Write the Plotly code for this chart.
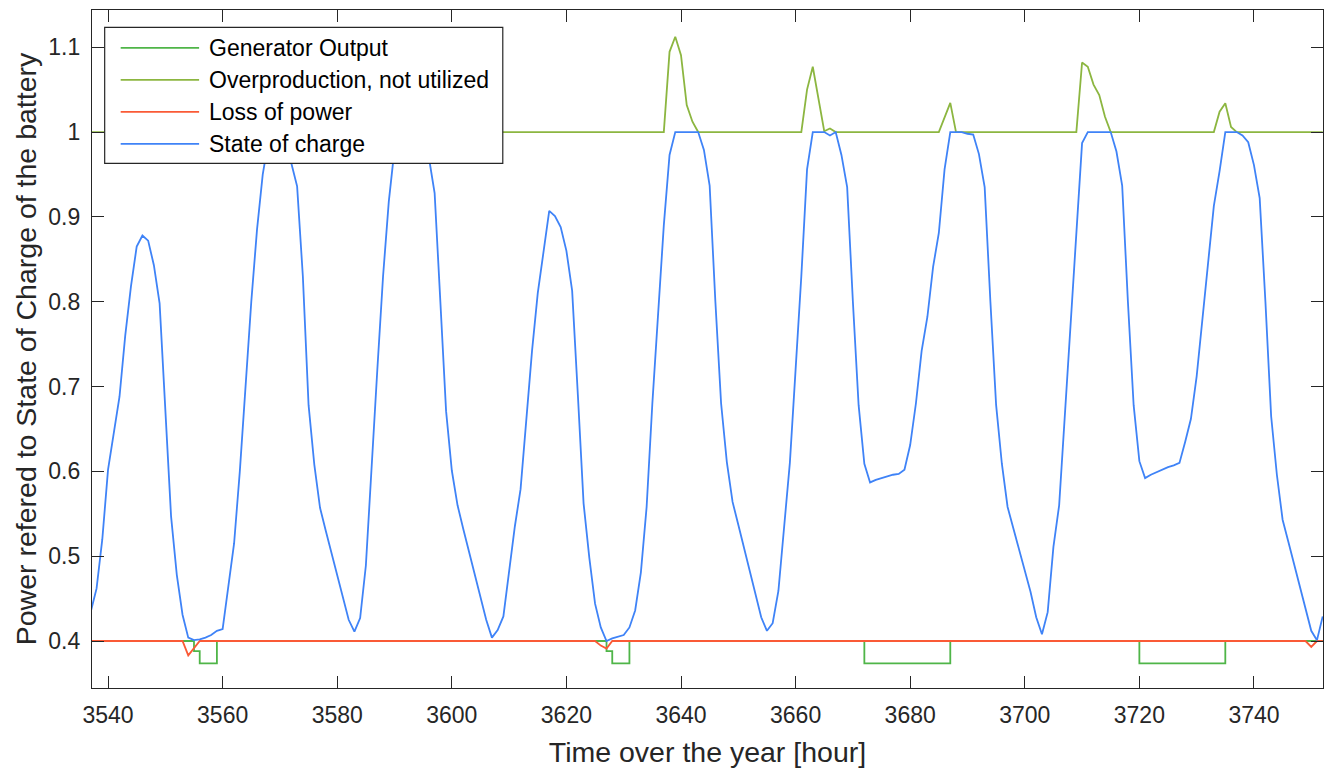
import numpy as np
import plotly.graph_objects as go

# ---------------- data ----------------
soc_hours = list(range(3537, 3753))
soc_vals = [
    0.435, 0.462, 0.520,                                   # 3537-3539
    0.602, 0.645, 0.688, 0.760, 0.818, 0.865, 0.878, 0.872, 0.843, 0.798,  # 3540-3549
    0.670, 0.547, 0.478, 0.431, 0.404, 0.401, 0.402, 0.404, 0.407, 0.412,  # 3550-3559
    0.414, 0.465, 0.515, 0.600, 0.700, 0.800, 0.885, 0.950, 0.990, 1.000,  # 3560-3569
    1.000, 1.000, 0.963, 0.936, 0.830, 0.678, 0.608, 0.557, 0.530, 0.503,  # 3570-3579
    0.476, 0.449, 0.425, 0.411, 0.427, 0.489, 0.609, 0.720, 0.830, 0.918,  # 3580-3589
    0.980, 1.000, 1.000, 1.000, 1.000, 1.000, 0.970, 0.928, 0.800, 0.671,  # 3590-3599
    0.601, 0.560, 0.532, 0.505, 0.478, 0.452, 0.425, 0.404, 0.413, 0.429,  # 3600-3609
    0.485, 0.535, 0.579, 0.660, 0.742, 0.810, 0.860, 0.907, 0.901, 0.888,  # 3610-3619
    0.860, 0.813, 0.690, 0.562, 0.498, 0.444, 0.416, 0.400, 0.403, 0.405,  # 3620-3629
    0.407, 0.416, 0.436, 0.481, 0.558, 0.680, 0.780, 0.890, 0.973, 1.000,  # 3630-3639
    1.000, 1.000, 1.000, 1.000, 0.979, 0.937, 0.800, 0.680, 0.611, 0.564,  # 3640-3649
    0.537, 0.509, 0.481, 0.453, 0.428, 0.412, 0.421, 0.459, 0.530, 0.610,  # 3650-3659
    0.720, 0.830, 0.956, 1.000, 1.000, 1.000, 0.996, 1.000, 0.973, 0.935,  # 3660-3669
    0.800, 0.678, 0.609, 0.587, 0.590, 0.592, 0.594, 0.596, 0.597, 0.602,  # 3670-3679
    0.631, 0.680, 0.742, 0.782, 0.841, 0.881, 0.956, 1.000, 1.000, 1.000,  # 3680-3689
    0.998, 0.997, 0.974, 0.935, 0.800, 0.678, 0.609, 0.558, 0.533, 0.508,  # 3690-3699
    0.483, 0.458, 0.428, 0.408, 0.434, 0.511, 0.560, 0.670, 0.780, 0.885,  # 3700-3709
    0.987, 1.000, 1.000, 1.000, 1.000, 1.000, 0.977, 0.937, 0.800, 0.678,  # 3710-3719
    0.612, 0.592, 0.596, 0.599, 0.602, 0.605, 0.607, 0.610, 0.635, 0.662,  # 3720-3729
    0.712, 0.780, 0.850, 0.913, 0.954, 1.000, 1.000, 1.000, 0.996, 0.988,  # 3730-3739
    0.961, 0.922, 0.800, 0.665, 0.596, 0.543, 0.517, 0.491, 0.464, 0.438,  # 3740-3749
    0.412, 0.401, 0.429,                                   # 3750-3752
]

over_hours = [3537, 3637, 3638, 3639, 3640, 3641, 3642, 3643,
              3661, 3662, 3663, 3664, 3665, 3666, 3667,
              3685, 3686, 3687, 3688,
              3709, 3710, 3711, 3712, 3713, 3714, 3715,
              3733, 3734, 3735, 3736, 3737, 3752]
over_vals = [1.0, 1.0, 1.0946, 1.1123, 1.0907, 1.0318, 1.0122, 1.0,
             1.0, 1.050, 1.077, 1.0377, 1.001, 1.0043, 1.0,
             1.0, 1.017, 1.0345, 1.0,
             1.0, 1.082, 1.077, 1.056, 1.0436, 1.018, 1.0,
             1.0, 1.024, 1.034, 1.006, 1.0, 1.0]

gen_hours = [3537, 3555, 3556, 3559, 3627, 3628, 3631, 3672, 3687, 3720, 3735, 3752]
gen_vals = [0.4, 0.388, 0.3737, 0.4, 0.388, 0.3737, 0.4, 0.3737, 0.4, 0.3737, 0.4, 0.4]

loss_hours = [3537, 3553, 3554, 3556, 3625, 3626, 3627, 3628, 3749, 3750, 3751, 3752]
loss_vals = [0.4, 0.4, 0.383, 0.4, 0.4, 0.3946, 0.391, 0.4, 0.4, 0.393, 0.4, 0.4]

x_ticks = [3540, 3560, 3580, 3600, 3620, 3640, 3660, 3680, 3700, 3720, 3740]
y_ticks = [0.4, 0.5, 0.6, 0.7, 0.8, 0.9, 1.0, 1.1]
y_tick_text = ["0.4", "0.5", "0.6", "0.7", "0.8", "0.9", "1", "1.1"]

series_names = ["Generator Output", "Overproduction, not utilized", "Loss of power", "State of charge"]
series_colors = ["#4fb548", "#8cb640", "#fa5a36", "#3f83f7"]

# ---------------- figure ----------------
FONT = "Liberation Sans, Arial, Helvetica, sans-serif"
INK = "#262626"
LW = 1.8

fig = go.Figure()
fig.add_trace(go.Scatter(x=gen_hours, y=gen_vals, mode="lines", name=series_names[0],
                         line=dict(color=series_colors[0], width=LW, shape="hv")))
fig.add_trace(go.Scatter(x=over_hours, y=over_vals, mode="lines", name=series_names[1],
                         line=dict(color=series_colors[1], width=LW)))
fig.add_trace(go.Scatter(x=loss_hours, y=loss_vals, mode="lines", name=series_names[2],
                         line=dict(color=series_colors[2], width=LW)))
fig.add_trace(go.Scatter(x=soc_hours, y=soc_vals, mode="lines", name=series_names[3],
                         line=dict(color=series_colors[3], width=LW)))

axis_common = dict(showline=True, linecolor=INK, linewidth=1.3, mirror="allticks",
                   ticks="inside", ticklen=12, tickwidth=1.3, tickcolor=INK,
                   showgrid=False, zeroline=False,
                   tickfont=dict(family=FONT, size=23, color=INK))

# legend box drawn in the MATLAB style (long line samples)
shapes = [dict(type="rect", xref="paper", yref="paper", x0=0.0103, x1=0.3337, y0=0.7739, y1=0.9745,
               line=dict(color=INK, width=1.2), fillcolor="white", layer="above")]
annotations = []
row_y = [0.9440, 0.8968, 0.8496, 0.8024]
for name, color, ry in zip(series_names, series_colors, row_y):
    shapes.append(dict(type="line", xref="paper", yref="paper", x0=0.0233, x1=0.0870, y0=ry, y1=ry,
                       line=dict(color=color, width=LW), layer="above"))
    annotations.append(dict(xref="paper", yref="paper", x=0.0937, y=ry, xanchor="left", yanchor="middle",
                            text=name, showarrow=False,
                            font=dict(family=FONT, size=23, color="black")))

fig.update_layout(
    width=1325, height=769,
    margin=dict(l=92, r=2, t=10, b=81),
    paper_bgcolor="white", plot_bgcolor="white",
    font=dict(family=FONT, color=INK),
    xaxis=dict(range=[3537.2, 3752.05], tickvals=x_ticks,
               title=dict(text="Time over the year [hour]", font=dict(family=FONT, size=28.5, color=INK),
                          standoff=15),
               ticklabelstandoff=6, **axis_common),
    yaxis=dict(range=[0.3446, 1.1439], tickvals=y_ticks, ticktext=y_tick_text,
               title=dict(text="Power refered to State of Charge of the battery",
                          font=dict(family=FONT, size=28.5, color=INK), standoff=3),
               ticklabelstandoff=6, **axis_common),
    shapes=shapes,
    annotations=annotations,
    showlegend=False,
)

fig.write_html("out.html")
